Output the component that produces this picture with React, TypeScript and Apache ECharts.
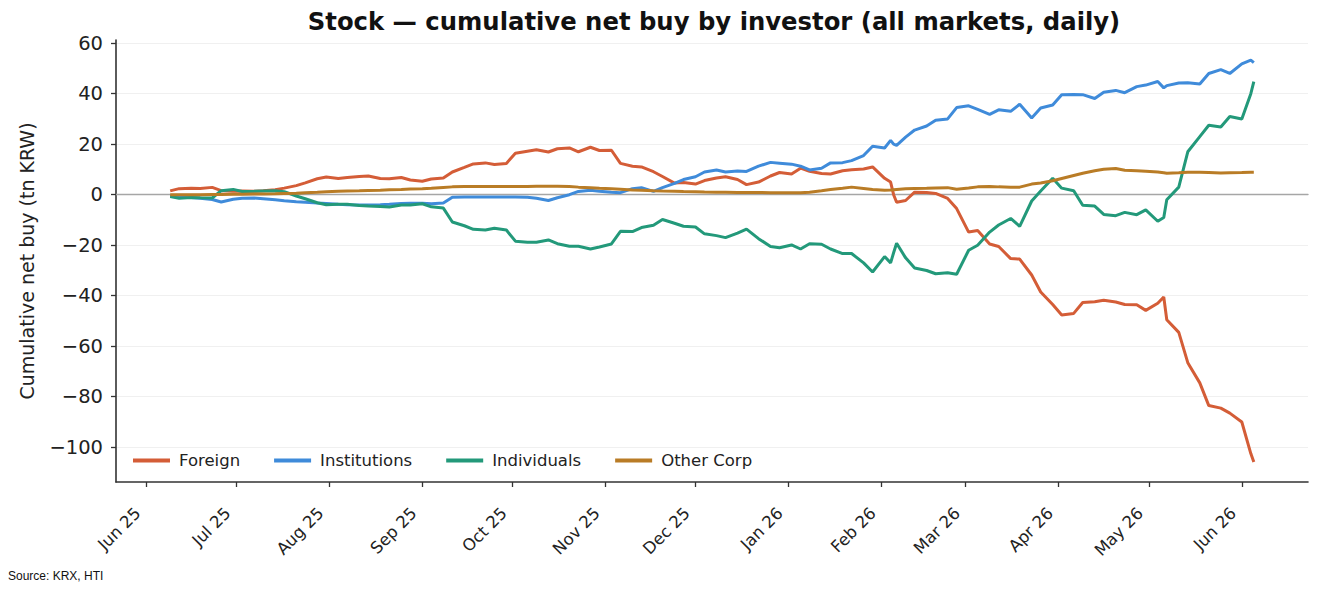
import React, { useEffect, useRef } from "react";
import * as echarts from "echarts";

const dates = [
  "2025-06-09","2025-06-12","2025-06-16","2025-06-19","2025-06-23","2025-06-26","2025-06-30","2025-07-03",
  "2025-07-07","2025-07-10","2025-07-14","2025-07-17","2025-07-21","2025-07-24","2025-07-28","2025-07-31",
  "2025-08-04","2025-08-07","2025-08-11","2025-08-14","2025-08-18","2025-08-21","2025-08-25","2025-08-28",
  "2025-09-01","2025-09-04","2025-09-08","2025-09-11","2025-09-15","2025-09-18","2025-09-22","2025-09-25",
  "2025-09-29","2025-10-02","2025-10-06","2025-10-09","2025-10-13","2025-10-16","2025-10-20","2025-10-23",
  "2025-10-27","2025-10-30","2025-11-03","2025-11-06","2025-11-10","2025-11-13","2025-11-17","2025-11-20",
  "2025-11-24","2025-11-27","2025-12-01","2025-12-04","2025-12-08","2025-12-11","2025-12-15","2025-12-18",
  "2025-12-22","2025-12-26","2025-12-29","2026-01-02","2026-01-05","2026-01-08","2026-01-12","2026-01-15",
  "2026-01-19","2026-01-22","2026-01-26","2026-01-29","2026-02-02","2026-02-04","2026-02-05","2026-02-06",
  "2026-02-09","2026-02-12","2026-02-16","2026-02-19","2026-02-23","2026-02-26","2026-03-02","2026-03-05",
  "2026-03-09","2026-03-12","2026-03-16","2026-03-19","2026-03-23","2026-03-26","2026-03-30","2026-04-02",
  "2026-04-06","2026-04-09","2026-04-13","2026-04-16","2026-04-20","2026-04-23","2026-04-27","2026-04-30",
  "2026-05-04","2026-05-06","2026-05-07","2026-05-11","2026-05-14","2026-05-18","2026-05-21","2026-05-25",
  "2026-05-28","2026-06-01","2026-06-04","2026-06-05",
];

const foreign = [
  1.5, 2.4, 2.6, 2.5, 2.9, 1.6, 1.4, 1.5,
  1.4, 1.6, 2.0, 2.6, 3.6, 4.7, 6.3, 7.0,
  6.4, 6.8, 7.2, 7.4, 6.4, 6.3, 6.8, 5.8,
  5.3, 6.2, 6.6, 9.0, 10.8, 12.2, 12.6, 12.0,
  12.4, 16.4, 17.2, 17.8, 16.9, 18.2, 18.5, 17.0,
  18.8, 17.5, 17.6, 12.4, 11.3, 11.0, 9.1, 7.2,
  4.6, 4.8, 4.2, 5.6, 6.6, 7.1, 6.0, 4.0,
  5.0, 7.4, 8.8, 8.2, 10.5, 9.3, 8.4, 8.2,
  9.5, 9.9, 10.2, 11.0, 6.5, 5.0, 0.0, -3.0,
  -2.3, 1.0, 0.9, 0.5, -1.5, -5.5, -14.8, -14.2,
  -19.5, -20.5, -25.3, -25.5, -31.8, -38.5, -43.5, -47.6,
  -47.0, -42.7, -42.4, -41.8, -42.5, -43.5, -43.6, -45.8,
  -43.0, -40.5, -49.5, -54.5, -66.5, -74.5, -83.5, -84.5,
  -86.5, -90.0, -102.5, -105.8,
];

const institutions = [
  -0.5, -0.8, -1.1, -1.4, -1.9, -2.9, -1.8, -1.4,
  -1.3, -1.6, -2.0, -2.4, -2.8, -3.0, -3.3, -3.5,
  -3.8, -4.0, -4.1, -4.1, -4.0, -3.8, -3.5, -3.4,
  -3.4, -3.6, -3.3, -1.0, -0.9, -0.9, -0.9, -0.9,
  -0.9, -0.9, -1.0, -1.4, -2.3, -1.2, 0.0, 1.3,
  1.8, 1.4, 1.0, 0.8, 2.4, 2.8, 1.3, 2.8,
  4.5, 6.0, 7.1, 9.0, 9.8, 9.0, 9.4, 9.2,
  11.3, 12.8, 12.5, 12.1, 11.3, 9.8, 10.5, 12.6,
  12.7, 13.5, 15.5, 19.2, 18.5, 21.5, 20.0, 19.5,
  22.8, 25.6, 27.2, 29.5, 30.0, 34.5, 35.2, 33.8,
  31.8, 33.6, 33.0, 35.8, 30.4, 34.3, 35.5, 39.6,
  39.7, 39.6, 38.1, 40.6, 41.3, 40.4, 42.8, 43.4,
  44.8, 42.3, 43.2, 44.2, 44.3, 43.8, 48.0, 49.5,
  48.0, 51.8, 53.3, 52.3,
];

const individuals = [
  -0.7, -1.4, -1.1, -1.2, -1.3, 1.6, 2.1, 1.3,
  1.4, 1.5, 1.6, 1.2, -0.5, -1.6, -3.2, -4.0,
  -3.8, -3.8, -4.3, -4.5, -4.7, -4.9, -4.1, -4.1,
  -3.6, -4.8, -5.3, -10.8, -12.3, -13.7, -14.0, -13.3,
  -14.0, -18.4, -18.8, -18.8, -17.9, -19.4, -20.4, -20.4,
  -21.5, -20.7, -19.5, -14.5, -14.6, -13.0, -12.1, -9.8,
  -11.3, -12.5, -12.8, -15.5, -16.2, -17.0, -15.2, -13.6,
  -17.4, -20.5, -21.0, -19.9, -21.5, -19.4, -19.6, -21.5,
  -23.3, -23.3, -27.0, -30.6, -24.5, -27.0, -23.0, -19.2,
  -25.0, -29.0, -30.0, -31.3, -30.9, -31.5, -22.0, -20.0,
  -14.8, -12.0, -9.4, -12.5, -2.5, 1.5, 6.5, 2.6,
  1.6, -4.2, -4.5, -7.8, -8.3, -7.0, -7.9, -6.0,
  -10.5, -9.0, -2.0, 3.0, 17.0, 23.0, 27.5, 26.8,
  31.0, 30.0, 40.0, 44.8,
];

const otherCorp = [
  0.0, 0.0, 0.0, 0.0, 0.1, 0.1, 0.2, 0.2,
  0.3, 0.3, 0.4, 0.5, 0.6, 0.8, 1.0, 1.2,
  1.4, 1.5, 1.6, 1.7, 1.8, 2.0, 2.1, 2.3,
  2.4, 2.6, 2.9, 3.1, 3.2, 3.2, 3.2, 3.2,
  3.2, 3.2, 3.2, 3.3, 3.3, 3.3, 3.2, 3.0,
  2.8, 2.6, 2.4, 2.2, 1.9, 1.8, 1.6, 1.5,
  1.4, 1.3, 1.2, 1.1, 1.0, 1.0, 0.9, 0.9,
  0.9, 0.8, 0.8, 0.8, 0.8, 1.0, 1.6, 2.1,
  2.6, 3.0, 2.5, 2.1, 1.8, 1.9, 2.0, 2.1,
  2.4, 2.5, 2.6, 2.7, 2.8, 2.2, 2.7, 3.1,
  3.2, 3.1, 3.0, 3.0, 4.2, 4.6, 5.5, 6.4,
  7.6, 8.5, 9.5, 10.1, 10.4, 9.7, 9.5, 9.3,
  9.0, 8.7, 8.5, 8.7, 8.9, 8.9, 8.8, 8.6,
  8.7, 8.8, 8.9, 8.9,
];

const monthTicks = [
  "2025-06-01","2025-07-01","2025-08-01","2025-09-01","2025-10-01","2025-11-01","2025-12-01",
  "2026-01-01","2026-02-01","2026-03-01","2026-04-01","2026-05-01","2026-06-01",
];
const yTicks = [-100, -80, -60, -40, -20, 0, 20, 40, 60];
const MONTHS = ["Jan","Feb","Mar","Apr","May","Jun","Jul","Aug","Sep","Oct","Nov","Dec"];

const seriesNames = ["Foreign", "Institutions", "Individuals", "Other Corp"];
const seriesColors = ["#D45D37", "#3F8BDA", "#23997A", "#B97C26"];

function ts(s: string): number {
  const [y, m, d] = s.split("-").map(Number);
  return new Date(y, m - 1, d).getTime();
}

export default function App() {
  const ref = useRef<HTMLDivElement>(null);
  useEffect(() => {
    document.body.style.margin = "0";
    const chart = echarts.init(ref.current!, null, { renderer: "svg" });
    const t = dates.map(ts);
    const span = t[t.length - 1] - t[0];
    const xmin = t[0] - 0.05 * span;
    const xmax = t[t.length - 1] + 0.05 * span;
    const values = [foreign, institutions, individuals, otherCorp];
    const all = values.flat();
    const vmin = Math.min(...all);
    const vmax = Math.max(...all);
    const vr = vmax - vmin;
    const ymin = vmin - 0.05 * vr;
    const ymax = vmax + 0.05 * vr;
    const monthTs = monthTicks.map(ts);
    const font = "DejaVu Sans";
    const dark = "#333333";

    chart.setOption({
      animation: false,
      textStyle: { fontFamily: font },
      title: {
        text: "Stock — cumulative net buy by investor (all markets, daily)",
        left: 709,
        top: 4,
        textAlign: "center",
        textStyle: { fontSize: 24.3, fontWeight: "bold", color: "#111", fontFamily: font },
      },
      legend: {
        left: 128,
        top: 447,
        icon: "rect",
        itemWidth: 37,
        itemHeight: 4,
        itemGap: 34,
        data: seriesNames,
        textStyle: { fontSize: 16.5, color: "#222", fontFamily: font, padding: [0, 0, 0, 4] },
      },
      grid: { left: 116, right: 16, top: 40, bottom: 110 },
      xAxis: [
        {
          type: "value",
          min: xmin,
          max: xmax,
          scale: true,
          axisLine: { show: true, onZero: false, lineStyle: { color: dark, width: 1.6 } },
          axisTick: { show: true, customValues: monthTs, length: 5, lineStyle: { color: dark, width: 1.3 } },
          axisLabel: {
            customValues: monthTs,
            rotate: 45,
            fontSize: 16.5,
            color: "#222",
            fontFamily: font,
            margin: 20,
            padding: [0, 12, 0, 0],
            formatter: (v: number) => {
              const d = new Date(v);
              return `${MONTHS[d.getMonth()]} ${String(d.getFullYear()).slice(2)}`;
            },
          },
          splitLine: { show: false },
        },
        {
          type: "value",
          min: 0,
          max: 1,
          position: "bottom",
          axisLine: { show: true, onZero: true, lineStyle: { color: "#a6a6a6", width: 1.4 } },
          axisTick: { show: false },
          axisLabel: { show: false },
          splitLine: { show: false },
        },
      ],
      yAxis: {
        type: "value",
        min: ymin,
        max: ymax,
        name: "Cumulative net buy (tn KRW)",
        nameLocation: "middle",
        nameGap: 80,
        nameTextStyle: { fontSize: 19, color: "#222", fontFamily: font },
        axisLine: { show: true, onZero: false, lineStyle: { color: dark, width: 1.6 } },
        axisTick: { show: true, customValues: yTicks, length: 5, lineStyle: { color: dark, width: 1.3 } },
        axisLabel: {
          customValues: yTicks,
          fontSize: 19.5,
          color: "#222",
          fontFamily: font,
          margin: 13,
          formatter: (v: number) => (v < 0 ? "\u2212" + Math.abs(v) : String(v)),
        },
        splitLine: { show: true, lineStyle: { color: "#f0f0f0", width: 1 } },
      },
      series: values.map((vals, k) => ({
        type: "line",
        name: seriesNames[k],
        xAxisIndex: 0,
        data: t.map((x, i) => [x, vals[i]]),
        symbol: "none",
        showSymbol: false,
        lineStyle: { width: 3, color: seriesColors[k] },
        itemStyle: { color: seriesColors[k] },
        z: 3,
      })),
      graphic: [
        {
          type: "text",
          left: 8,
          top: 570,
          style: { text: "Source: KRX, HTI", fontSize: 12, fontFamily: "Liberation Sans", fill: "#111" },
        },
      ],
    });
    return () => chart.dispose();
  }, []);
  return <div ref={ref} style={{ width: 1324, height: 592 }} />;
}
